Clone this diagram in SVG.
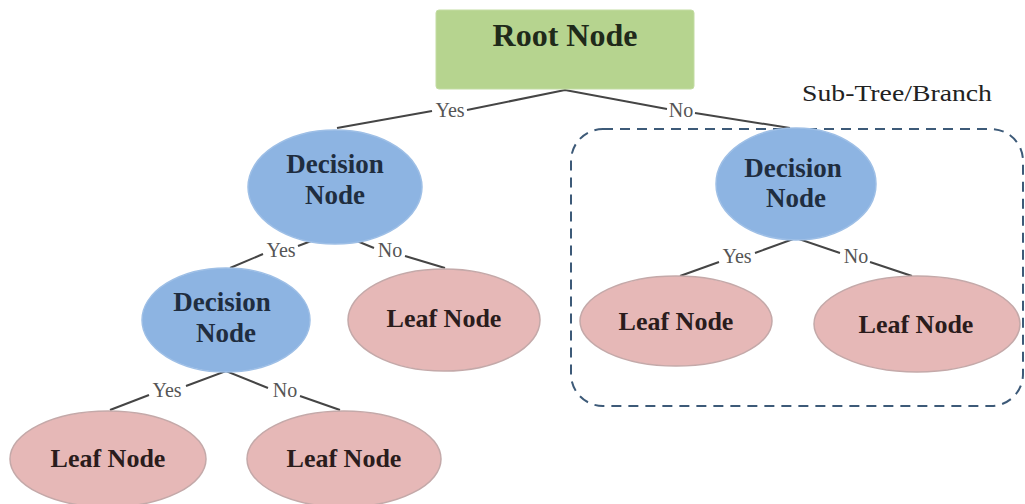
<svg xmlns="http://www.w3.org/2000/svg" width="1025" height="504" viewBox="0 0 1025 504">
<style>
.t{font-family:"Liberation Serif","Times New Roman",serif;font-weight:bold;text-anchor:middle}
.dec{fill:#8db4e2;stroke:#9ebfe6;stroke-width:1.5}
.leaf{fill:#e6b8b7;stroke:#c4a9a9;stroke-width:1.5}
.dt{fill:#1f2d3f;font-size:27px}
.lt{fill:#2a1c1c;font-size:26px}
.ln{stroke:#454545;stroke-width:2;fill:none}
.lab{font-family:"Liberation Serif","Times New Roman",serif;font-size:20px;fill:#555;text-anchor:middle}
</style>
<rect width="1025" height="504" fill="#ffffff"/>
<g id="subtree">
<rect x="571" y="129" width="452" height="277" rx="32" ry="32" fill="none" stroke="#3d5a78" stroke-width="2" stroke-dasharray="10,7"/>
<text x="897" y="101" font-family="Liberation Serif,Times New Roman,serif" font-size="24" fill="#222" text-anchor="middle" textLength="190" lengthAdjust="spacingAndGlyphs">Sub-Tree/Branch</text>
</g>
<g id="connectors">
<polyline class="ln" points="337,128 432,111"/>
<polyline class="ln" points="467,110 565,90 667,109"/>
<polyline class="ln" points="695,113 790,128"/>
<text class="lab" x="450" y="117">Yes</text>
<text class="lab" x="681" y="117">No</text>
<polyline class="ln" points="230,268 263,254"/>
<polyline class="ln" points="298,246 335,232 374,248"/>
<polyline class="ln" points="405,256 445,268"/>
<text class="lab" x="281" y="257">Yes</text>
<text class="lab" x="390" y="257">No</text>
<polyline class="ln" points="110,410 149,395"/>
<polyline class="ln" points="186,386 226,371 268,388"/>
<polyline class="ln" points="300,396 340,410"/>
<text class="lab" x="167" y="397">Yes</text>
<text class="lab" x="285" y="397">No</text>
<polyline class="ln" points="680,276 719,262"/>
<polyline class="ln" points="755,253 796,238 840,253"/>
<polyline class="ln" points="870,262 912,276"/>
<text class="lab" x="737" y="263">Yes</text>
<text class="lab" x="856" y="263">No</text>
</g>
<g id="root">
<rect x="436" y="10" width="258" height="79" rx="3" fill="#b6d48f" stroke="#c3dca3" stroke-width="1"/>
<text class="t" x="565" y="46" font-size="32" fill="#1f2a1a">Root Node</text>
</g>
<g id="decision1">
<ellipse class="dec" cx="335" cy="187" rx="87" ry="57"/>
<text class="t dt" x="335" y="173">Decision</text>
<text class="t dt" x="335" y="204">Node</text>
</g>
<g id="decision2">
<ellipse class="dec" cx="226" cy="320" rx="84" ry="52"/>
<text class="t dt" x="222" y="311">Decision</text>
<text class="t dt" x="226" y="342">Node</text>
</g>
<g id="leaf1">
<ellipse class="leaf" cx="444" cy="320" rx="96" ry="51"/>
<text class="t lt" x="444" y="327">Leaf Node</text>
</g>
<g id="leaf2">
<ellipse class="leaf" cx="108" cy="459" rx="98" ry="48"/>
<text class="t lt" x="108" y="467">Leaf Node</text>
</g>
<g id="leaf3">
<ellipse class="leaf" cx="344" cy="459" rx="97" ry="48"/>
<text class="t lt" x="344" y="467">Leaf Node</text>
</g>
<g id="decision3">
<ellipse class="dec" cx="796" cy="184" rx="80" ry="56"/>
<text class="t dt" x="793" y="177">Decision</text>
<text class="t dt" x="796" y="207">Node</text>
</g>
<g id="leaf4">
<ellipse class="leaf" cx="676" cy="321" rx="96" ry="45"/>
<text class="t lt" x="676" y="330">Leaf Node</text>
</g>
<g id="leaf5">
<ellipse class="leaf" cx="917" cy="324" rx="103" ry="48"/>
<text class="t lt" x="916" y="333">Leaf Node</text>
</g>
</svg>
